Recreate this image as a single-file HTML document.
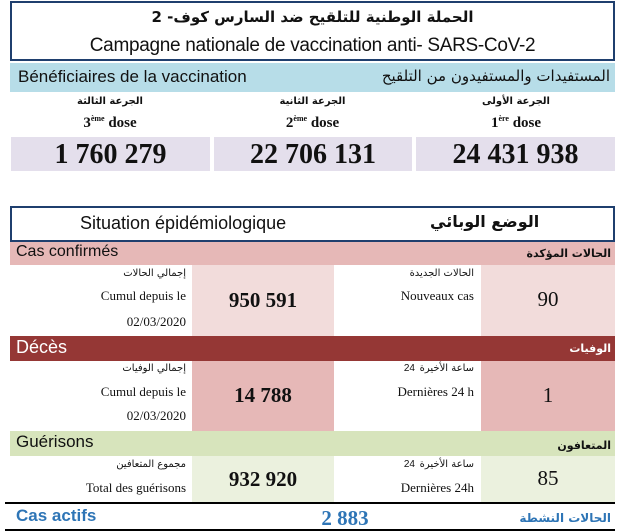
<!DOCTYPE html>
<html><head><meta charset="utf-8"><style>
body{margin:0;width:622px;height:532px;background:#fff;position:relative;overflow:hidden;font-family:"Liberation Sans","DejaVu Sans",sans-serif;color:#111}
div{position:absolute;box-sizing:border-box}
.ar{font-family:"DejaVu Sans",sans-serif;font-weight:bold}
.num{font-family:"Liberation Serif",serif;font-weight:bold;text-align:center}
.r{text-align:right}
.ser{font-family:"Liberation Serif",serif}
</style></head><body>
<div style="left:10px;top:1px;width:605px;height:60px;border:2px solid #1f3f6e"></div>
<div class="ar" style="left:10px;top:8px;width:605px;text-align:center;font-size:15px">الحملة الوطنية للتلقيح ضد السارس كوف- 2</div>
<div style="left:10px;top:35px;width:605px;text-align:center;font-size:19px;letter-spacing:-0.3px">Campagne nationale de vaccination anti- SARS-CoV-2</div>

<div style="left:10px;top:63px;width:605px;height:29px;background:#b7dde8"></div>
<div style="left:18px;top:67px;font-size:17px">Bénéficiaires de la vaccination</div>
<div class="r" style="left:380px;top:67px;width:230px;font-size:15px;font-family:'DejaVu Sans',sans-serif">المستفيدات والمستفيدون من التلقيح</div>

<div class="ar" style="left:10px;top:96px;width:200px;text-align:center;font-size:10px">الجرعة الثالثة</div>
<div class="ar" style="left:215px;top:96px;width:195px;text-align:center;font-size:10px">الجرعة الثانية</div>
<div class="ar" style="left:418px;top:96px;width:196px;text-align:center;font-size:10px">الجرعة الأولى</div>
<div class="ser" style="left:10px;top:114px;width:200px;text-align:center;font-size:15px;font-weight:bold">3<sup style="font-size:8px">ème</sup> dose</div>
<div class="ser" style="left:215px;top:114px;width:195px;text-align:center;font-size:15px;font-weight:bold">2<sup style="font-size:8px">ème</sup> dose</div>
<div class="ser" style="left:418px;top:114px;width:196px;text-align:center;font-size:15px;font-weight:bold">1<sup style="font-size:8px">ère</sup> dose</div>
<div class="num" style="left:11px;top:137px;width:199px;height:34px;background:#e4dfec;font-size:28px;line-height:36px">1 760 279</div>
<div class="num" style="left:214px;top:137px;width:198px;height:34px;background:#e4dfec;font-size:28px;line-height:36px">22 706 131</div>
<div class="num" style="left:416px;top:137px;width:199px;height:34px;background:#e4dfec;font-size:28px;line-height:36px">24 431 938</div>

<div style="left:10px;top:206px;width:605px;height:36px;border:2px solid #1f3f6e"></div>
<div style="left:80px;top:213px;font-size:18px">Situation épidémiologique</div>
<div class="ar" style="left:430px;top:212px;font-size:16px">الوضع الوبائي</div>

<div style="left:10px;top:242px;width:605px;height:23px;background:#e6b8b7"></div>
<div style="left:16px;top:243px;font-size:16px">Cas confirmés</div>
<div class="ar r" style="left:480px;top:247px;width:131px;font-size:11px">الحالات المؤكدة</div>
<div style="left:192px;top:265px;width:142px;height:71px;background:#f2dcdb"></div>
<div style="left:481px;top:265px;width:134px;height:71px;background:#f2dcdb"></div>
<div class="r" style="left:10px;top:268px;width:176px;font-size:10px;font-family:'DejaVu Sans',sans-serif">إجمالي الحالات</div>
<div class="r ser" style="left:10px;top:288px;width:176px;font-size:13px">Cumul depuis le</div>
<div class="r ser" style="left:10px;top:314px;width:176px;font-size:13px">02/03/2020</div>
<div class="num" style="left:192px;top:288px;width:142px;font-size:21px">950 591</div>
<div class="r" style="left:340px;top:268px;width:134px;font-size:10px;font-family:'DejaVu Sans',sans-serif">الحالات الجديدة</div>
<div class="r ser" style="left:340px;top:288px;width:134px;font-size:13px">Nouveaux cas</div>
<div class="ser" style="left:481px;top:287px;width:134px;text-align:center;font-size:21px">90</div>

<div style="left:10px;top:336px;width:605px;height:25px;background:#953735"></div>
<div style="left:16px;top:337px;font-size:18px;color:#fff">Décès</div>
<div class="ar r" style="left:480px;top:342px;width:131px;font-size:11px;color:#fff">الوفيات</div>
<div style="left:192px;top:361px;width:142px;height:70px;background:#e6b8b7"></div>
<div style="left:481px;top:361px;width:134px;height:70px;background:#e6b8b7"></div>
<div class="r" style="left:10px;top:363px;width:176px;font-size:10px;font-family:'DejaVu Sans',sans-serif">إجمالي الوفيات</div>
<div class="r ser" style="left:10px;top:384px;width:176px;font-size:13px">Cumul depuis le</div>
<div class="r ser" style="left:10px;top:408px;width:176px;font-size:13px">02/03/2020</div>
<div class="num" style="left:192px;top:383px;width:142px;font-size:21px">14 788</div>
<div class="r" style="left:340px;top:363px;width:134px;font-size:10px;font-family:'DejaVu Sans',sans-serif">ساعة الأخيرة</div>
<div class="r" style="left:380px;top:363px;width:35px;font-size:10px">24</div>
<div class="r ser" style="left:340px;top:384px;width:134px;font-size:13px">Dernières 24 h</div>
<div class="ser" style="left:481px;top:383px;width:134px;text-align:center;font-size:21px">1</div>

<div style="left:10px;top:431px;width:605px;height:25px;background:#d7e4bc"></div>
<div style="left:16px;top:432px;font-size:17px">Guérisons</div>
<div class="ar r" style="left:480px;top:439px;width:131px;font-size:11px">المتعافون</div>
<div style="left:192px;top:456px;width:142px;height:47px;background:#ebf1de"></div>
<div style="left:481px;top:456px;width:134px;height:47px;background:#ebf1de"></div>
<div class="r" style="left:10px;top:459px;width:176px;font-size:10px;font-family:'DejaVu Sans',sans-serif">مجموع المتعافين</div>
<div class="r ser" style="left:10px;top:480px;width:176px;font-size:13px">Total des guérisons</div>
<div class="num" style="left:192px;top:467px;width:142px;font-size:21px">932 920</div>
<div class="r" style="left:340px;top:459px;width:134px;font-size:10px;font-family:'DejaVu Sans',sans-serif">ساعة الأخيرة</div>
<div class="r" style="left:380px;top:459px;width:35px;font-size:10px">24</div>
<div class="r ser" style="left:340px;top:480px;width:134px;font-size:13px">Dernières 24h</div>
<div class="ser" style="left:481px;top:466px;width:134px;text-align:center;font-size:21px">85</div>

<div style="left:5px;top:502px;width:610px;height:2px;background:#000"></div>
<div style="left:16px;top:506px;font-size:17px;font-weight:bold;color:#2e75b6">Cas actifs</div>
<div class="num" style="left:250px;top:506px;width:190px;font-size:21px;color:#2e75b6">2 883</div>
<div class="ar r" style="left:480px;top:511px;width:131px;font-size:12px;color:#2e75b6">الحالات النشطة</div>
<div style="left:5px;top:529px;width:610px;height:2px;background:#000"></div>
</body></html>
